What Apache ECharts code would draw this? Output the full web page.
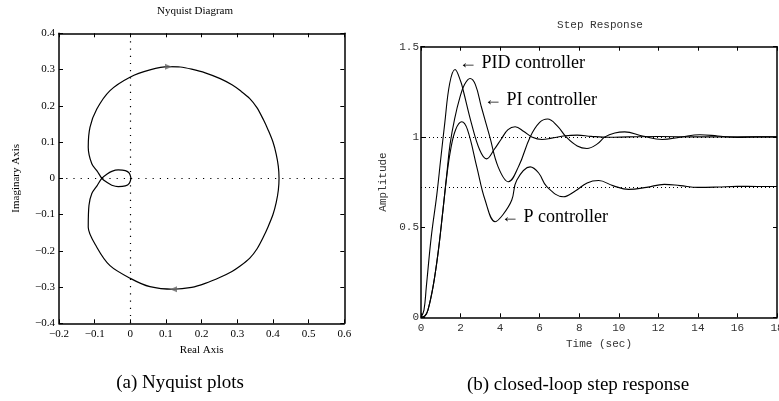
<!DOCTYPE html>
<html><head><meta charset="utf-8">
<script src="https://cdn.jsdelivr.net/npm/echarts@6/dist/echarts.min.js"></script>
<style>html,body{margin:0;padding:0;background:#fff}#c{width:779px;height:401px}</style>
</head><body><div id="c"></div><script>
// ---------- Nyquist data (real / imaginary parts) ----------
const nyqRe = [0.002,-0.003,-0.014,-0.034,-0.052,-0.066,-0.080,-0.093,-0.108,-0.116,-0.118,-0.094,-0.057,0.000,0.055,0.121,0.172,0.210,0.252,0.285,0.308,0.335,0.355,0.373,0.387,0.400,0.409,0.415,0.417,
               0.415,0.409,0.400,0.387,0.373,0.355,0.335,0.308,0.285,0.252,0.210,0.172,0.140,0.107,0.055,-0.001,-0.057,-0.094,-0.113,-0.118,-0.108,-0.093,-0.080,-0.066,-0.052,-0.034,-0.014,-0.003,0.002];
const nyqIm = [0.000,0.014,0.021,0.023,0.019,0.011,0.000,-0.020,-0.042,-0.075,-0.135,-0.190,-0.241,-0.276,-0.299,-0.306,-0.301,-0.290,-0.273,-0.257,-0.242,-0.220,-0.195,-0.162,-0.132,-0.100,-0.067,-0.033,0.000,
               0.033,0.067,0.100,0.132,0.162,0.195,0.220,0.242,0.258,0.275,0.291,0.301,0.307,0.308,0.299,0.279,0.242,0.191,0.141,0.086,0.040,0.020,0.000,-0.011,-0.019,-0.023,-0.021,-0.014,0.000];
const nyqArrowUp = [0.107, 0.308];
const nyqArrowDown = [0.121, -0.306];
const nyqXTicks = {min:-0.2, max:0.6, step:0.1};
const nyqYTicks = {min:-0.4, max:0.4, step:0.1};

// ---------- Step response data ----------
const pidT = [0,0.15,0.27,0.52,0.8,1.0,1.2,1.45,1.72,2.0,2.13,2.55,2.97,3.31,3.7,4.07,4.4,4.76,5.2,5.6,6.11,6.6,7.2,7.9,8.6,9.5,10.5,12,14,16,18];
const pidY = [0,0.04,0.17,0.447,0.68,0.88,1.075,1.296,1.374,1.31,1.26,1.075,0.927,0.878,0.93,0.99,1.04,1.056,1.03,1.0,0.986,0.993,1.005,1.01,1.003,0.998,1.0,1.002,1.0,1.0,1.0];
const piT = [0,0.2,0.35,0.61,0.86,1.11,1.3,1.47,1.7,1.97,2.2,2.48,2.75,3.05,3.48,3.9,4.42,4.95,5.52,6.0,6.4,6.9,7.34,7.9,8.39,8.9,9.3,9.8,10.3,11.2,12.2,13.1,14.1,15.0,16.0,17,18];
const piY = [0,0.008,0.04,0.17,0.354,0.594,0.79,0.96,1.1,1.22,1.29,1.324,1.29,1.167,1.0,0.834,0.751,0.84,1.0,1.08,1.099,1.06,1.0,0.95,0.936,0.96,1.0,1.022,1.028,1.005,0.986,0.998,1.012,1.005,0.997,1.0,1.0];
const pT = [0,0.2,0.35,0.61,0.86,1.11,1.3,1.5,1.75,2.06,2.35,2.82,3.24,3.75,4.15,4.59,4.84,5.52,5.95,6.36,7.2,7.8,8.4,8.98,9.7,10.5,11.4,12.3,13.1,14,15,16,17,18];
const pY = [0,0.008,0.04,0.17,0.354,0.594,0.78,0.93,1.04,1.084,1.04,0.834,0.65,0.53,0.57,0.65,0.76,0.834,0.8,0.724,0.668,0.7,0.745,0.758,0.73,0.709,0.72,0.737,0.73,0.72,0.722,0.726,0.725,0.725];
const pidFinal = 1.0, pFinal = 0.725;
const stepXTicks = {min:0, max:18, step:2};
const stepYTicks = {min:0, max:1.5, step:0.5};

const zip = (a,b) => a.map((v,i)=>[v,b[i]]);
const fmtSigned = v => { const s = Math.abs(v) < 1e-9 ? '0' : Math.abs(v).toFixed(1); return v < -1e-9 ? '\u2212' + s : s; };
const fmtStep = v => String(Math.round(v*10)/10);

const SERIF = "'Liberation Serif','Times New Roman',serif";
const MONO = "'Liberation Mono','Courier New',monospace";

function xAx(grid, t, pos, showLabel, font, fmt, color, margin, name, nameGap){
  return {
    type:'value', gridIndex:grid, position:pos, min:t.min, max:t.max, interval:t.step,
    axisLine:{show:true, onZero:false, lineStyle:{color:'#000', width:1.5}},
    axisTick:{show:true, inside:true, length:4, lineStyle:{color:'#000', width:1}},
    axisLabel:{show:showLabel, fontFamily:font, fontSize:11, color:color, margin:margin, formatter:fmt, hideOverlap:false},
    splitLine:{show:false},
    name: name||'', nameLocation:'middle', nameGap:nameGap||0,
    nameTextStyle:{fontFamily:font, fontSize:11, color:color}
  };
}
function yAx(grid, t, pos, showLabel, font, fmt, color, margin, name, nameGap){
  const a = xAx(grid, t, pos, showLabel, font, fmt, color, margin, name, nameGap);
  a.nameRotate = 90;
  return a;
}

const chart = echarts.init(document.getElementById('c'), null, {renderer:'canvas'});
chart.setOption({
  animation:false,
  backgroundColor:'#fff',
  grid:[
    {left:59, top:33.3, width:285.3, height:290, containLabel:false, outerBoundsMode:'none'},
    {left:421, top:46.7, width:356, height:270.6, containLabel:false, outerBoundsMode:'none'}
  ],
  xAxis:[
    xAx(0, nyqXTicks, 'bottom', true, SERIF, fmtSigned, '#000', 5, 'Real Axis', 15),
    xAx(0, nyqXTicks, 'top', false, SERIF, fmtSigned, '#000', 5),
    xAx(1, stepXTicks, 'bottom', true, MONO, fmtStep, '#333', 5, 'Time (sec)', 20),
    xAx(1, stepXTicks, 'top', false, MONO, fmtStep, '#333', 5)
  ],
  yAxis:[
    yAx(0, nyqYTicks, 'left', true, SERIF, fmtSigned, '#000', 4, 'Imaginary Axis', 37),
    yAx(0, nyqYTicks, 'right', false, SERIF, fmtSigned, '#000', 4),
    yAx(1, stepYTicks, 'left', true, MONO, fmtStep, '#333', 2, 'Amplitude', 32),
    yAx(1, stepYTicks, 'right', false, MONO, fmtStep, '#333', 2)
  ],
  series:[
    {type:'line', xAxisIndex:0, yAxisIndex:0, data:zip(nyqRe,nyqIm), showSymbol:false, symbol:'none', smooth:0.3,
     lineStyle:{color:'#000', width:1.2}, z:3,
     markLine:{silent:true, symbol:['none','none'], label:{show:false},
       lineStyle:{color:'#000', width:1.2, type:[1.2,6]}, data:[{xAxis:0},{yAxis:0}]}},
    {type:'scatter', xAxisIndex:0, yAxisIndex:0, data:[nyqArrowUp], symbol:'triangle', symbolRotate:-90, symbolSize:[6,7], itemStyle:{color:'#666'}, z:4},
    {type:'scatter', xAxisIndex:0, yAxisIndex:0, data:[nyqArrowDown], symbol:'triangle', symbolRotate:90, symbolSize:[6,7], itemStyle:{color:'#666'}, z:4},
    {type:'line', xAxisIndex:2, yAxisIndex:2, data:zip(pidT,pidY), showSymbol:false, symbol:'none', smooth:0.4, lineStyle:{color:'#000', width:1.1}, z:3},
    {type:'line', xAxisIndex:2, yAxisIndex:2, data:zip(piT,piY), showSymbol:false, symbol:'none', smooth:0.4, lineStyle:{color:'#000', width:1.1}, z:3},
    {type:'line', xAxisIndex:2, yAxisIndex:2, data:zip(pT,pY), showSymbol:false, symbol:'none', smooth:0.4, lineStyle:{color:'#000', width:1.1}, z:3,
     markLine:{silent:true, symbol:['none','none'], label:{show:false},
       lineStyle:{color:'#000', width:1, type:[1,3]}, data:[{yAxis:pidFinal},{yAxis:pFinal}]}}
  ],
  graphic:[
    {type:'text', style:{x:195, y:11, text:'Nyquist Diagram', font:'11px '+SERIF, fill:'#000', textAlign:'center', textVerticalAlign:'middle'}},
    {type:'text', style:{x:600, y:25, text:'Step Response', font:'11px '+MONO, fill:'#333', textAlign:'center', textVerticalAlign:'middle'}},
    {type:'text', style:{x:459, y:63, text:'\u2190 PID controller', font:'18px '+SERIF, fill:'#000', textAlign:'left', textVerticalAlign:'middle'}},
    {type:'text', style:{x:484, y:100, text:'\u2190 PI controller', font:'18px '+SERIF, fill:'#000', textAlign:'left', textVerticalAlign:'middle'}},
    {type:'text', style:{x:501, y:217, text:'\u2190 P controller', font:'18px '+SERIF, fill:'#000', textAlign:'left', textVerticalAlign:'middle'}},
    {type:'text', style:{x:180, y:383, text:'(a) Nyquist plots', font:'19px '+SERIF, fill:'#000', textAlign:'center', textVerticalAlign:'middle'}},
    {type:'text', style:{x:578, y:385, text:'(b) closed-loop step response', font:'19px '+SERIF, fill:'#000', textAlign:'center', textVerticalAlign:'middle'}}
  ]
});
</script></body></html>
